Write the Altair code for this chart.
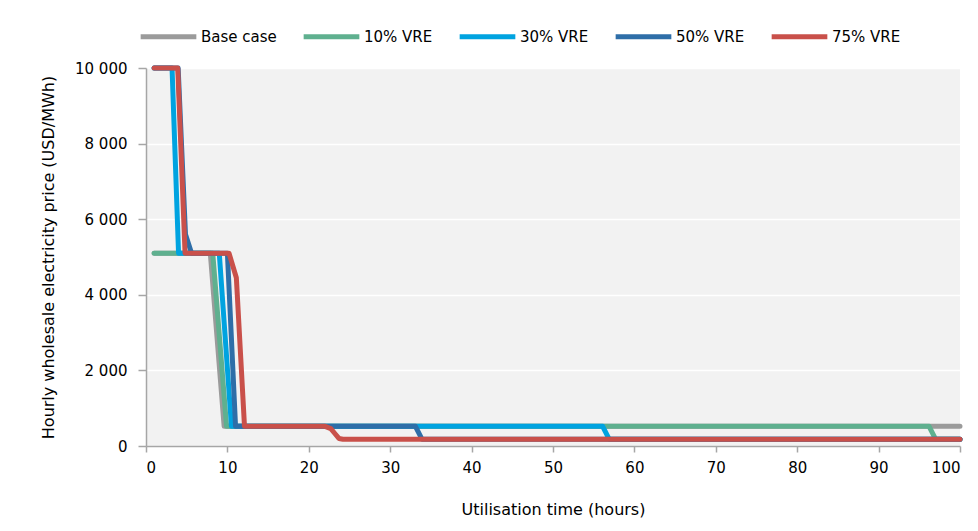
import altair as alt
import pandas as pd

series_names = ["Base case", "10% VRE", "30% VRE", "50% VRE", "75% VRE"]
series_colors = ["#9b9b9b", "#5fb08f", "#00a3e0", "#2e6ea8", "#c9504a"]

base_x = [1, 7.9, 9.6, 100]
base_y = [5100, 5100, 520, 520]

vre10_x = [1, 8.2, 9.9, 96.2, 97.0, 100]
vre10_y = [5100, 5100, 520, 520, 180, 180]

vre30_x = [1, 3.2, 4.0, 9.0, 10.5, 56.1, 56.9, 100]
vre30_y = [10000, 10000, 5100, 5100, 520, 520, 180, 180]

vre50_x = [1, 3.95, 4.85, 5.6, 10.0, 11.0, 33.1, 33.9, 100]
vre50_y = [10000, 10000, 5600, 5100, 5100, 520, 520, 180, 180]

vre75_x = [1, 3.9, 4.8, 10.2, 11.1, 12.1, 22.0, 22.7, 23.2, 23.7, 24.2, 100]
vre75_y = [10000, 10000, 5100, 5100, 4450, 520, 520, 460, 330, 200, 180, 180]

rows = []
for name, xs, ys in zip(series_names,
                        [base_x, vre10_x, vre30_x, vre50_x, vre75_x],
                        [base_y, vre10_y, vre30_y, vre50_y, vre75_y]):
    for i, (xv, yv) in enumerate(zip(xs, ys)):
        rows.append({"series": name, "x": xv, "y": yv, "idx": i})
df = pd.DataFrame(rows)

FONT = "DejaVu Sans"

chart = alt.Chart(df).mark_line(
    strokeWidth=5, strokeCap="round", strokeJoin="round"
).encode(
    x=alt.X("x:Q",
            scale=alt.Scale(domain=[0, 100], nice=False),
            axis=alt.Axis(values=list(range(0, 101, 10)), title="Utilisation time (hours)",
                          grid=False, tickSize=6, labelPadding=8, titlePadding=26)),
    y=alt.Y("y:Q",
            scale=alt.Scale(domain=[0, 10000], nice=False),
            axis=alt.Axis(values=list(range(0, 10001, 2000)),
                          title="Hourly wholesale electricity price (USD/MWh)",
                          labelExpr="replace(format(datum.value, ','), ',', ' ')",
                          grid=True, gridColor="white", gridWidth=1.5,
                          tickSize=8, labelPadding=11, titlePadding=18)),
    color=alt.Color("series:N",
                    scale=alt.Scale(domain=series_names, range=series_colors),
                    legend=alt.Legend(title=None, orient="none", direction="horizontal",
                                      legendX=-8, legendY=-62,
                                      symbolType="stroke", symbolSize=3100,
                                      symbolStrokeWidth=5, labelOffset=2,
                                      columnPadding=16, labelFontSize=15,
                                      labelFont=FONT, labelColor="#000000")),
    order=alt.Order("idx:Q"),
).properties(
    width=814, height=378,
    background="white",
    autosize=alt.AutoSizeParams(type="none"),
    padding={"left": 138, "top": 60, "right": 10, "bottom": 77},
).configure_view(
    fill="#f2f2f2", strokeWidth=0
).configure_axis(
    labelFont=FONT, titleFont=FONT, labelFontSize=15, titleFontSize=16,
    titleFontWeight="normal", labelColor="#000000", titleColor="#000000",
    domainColor="#a6a6a6", domainWidth=1.5, tickColor="#a6a6a6", tickWidth=1.5,
)

chart.save("out.html", embed_options={"renderer": "svg", "actions": False})
